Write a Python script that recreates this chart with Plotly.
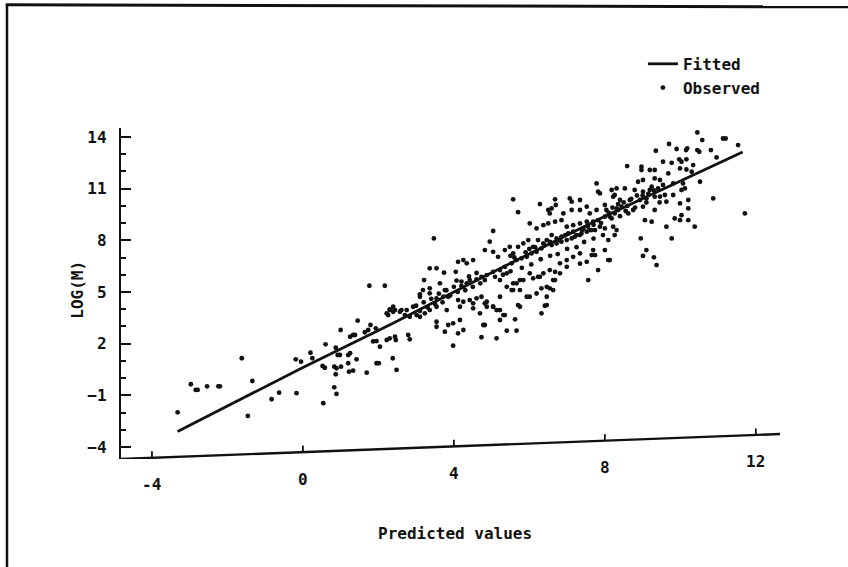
import plotly.graph_objects as go

# ---------------- data ----------------
fit_x = [-3.32, 0.0, 2.4, 4.8, 8.0, 11.65]
fit_y = [-3.11, 0.62, 3.2, 5.9, 9.4, 13.13]

obs_x = [
    # sparse left part
    -3.32, -2.97, -2.84, -2.79, -2.54, -2.24, -2.20, -1.62, -1.34, -1.46, -0.83, -0.63, -0.17, -0.19, -0.05,
    0.20, 0.25, 0.52, 0.58, 0.54, 0.60, 0.83, 0.89, 0.87, 0.83, 0.89, 0.87, 0.92, 0.98, 1.00, 1.01, 1.20,
    1.22, 1.33, 1.20, 1.25, 1.42, 1.25, 1.33, 1.38, 1.45, 1.64, 1.73, 1.79, 1.86, 1.95, 1.93, 2.04, 1.95,
    2.01, 1.69, 2.26, 2.30, 2.39, 2.22, 2.30, 2.38, 2.48, 2.46,
    # x 1.7 - 5
    1.76, 2.17, 3.47, 3.36, 3.54, 3.74, 4.05, 4.11, 4.25, 4.34, 4.51, 3.21, 3.36, 3.10, 3.63, 3.76, 3.85,
    3.72, 3.54, 4.07, 4.20, 4.34, 4.42, 4.60, 4.73, 4.82, 4.11, 4.25, 4.42, 4.51, 4.60, 4.73, 4.87, 2.30,
    2.44, 2.61, 2.70, 2.83, 3.01, 3.10, 3.23, 3.36, 3.54, 3.54, 3.54, 3.76, 3.85, 3.98, 4.16, 4.25, 4.11,
    3.98, 4.73, 4.82, 2.44, 2.83, 2.79,
    # lower group x 5 - 6.5
    5.13, 5.31, 5.40, 5.62, 5.66, 5.70, 6.41, 5.04, 5.22,
    # upper group x 5.5 - 8.3
    7.78, 7.82, 7.87, 8.18, 8.26, 5.57, 5.70, 6.28, 6.68, 6.70, 7.07, 7.12, 7.34, 6.50, 6.59, 6.54, 6.90,
    7.12, 7.34, 7.52, 7.60, 7.78, 8.00, 8.04,
    6.01, 6.19, 6.37, 6.50, 6.68, 6.85, 6.99, 7.16, 7.34, 7.52, 7.69, 7.82, 8.00, 8.18, 8.26, 8.35, 5.04,
    4.95, 4.82, 5.04, 5.17, 5.35, 5.48, 5.57, 5.70, 5.84, 5.97, 6.10, 6.23, 6.37, 6.46, 6.59, 6.72, 6.85,
    7.03, 7.16, 7.34, 7.43, 7.60, 7.74, 7.87, 8.00, 8.09, 8.00, 7.74, 8.09, 7.82, 7.56,
    # dense band along the line
    4.87, 5.04, 5.22, 5.35, 5.53, 5.66, 5.79, 5.93, 6.06, 6.19, 6.32, 6.59, 6.72, 6.85, 6.99, 7.12, 7.25,
    7.38, 7.52, 7.65,
    5.09, 5.22, 5.40, 5.53, 5.66, 5.75, 6.10, 6.23, 6.37, 6.54, 6.68, 6.81, 6.99, 7.16, 7.34, 7.52, 7.65,
    7.34, 7.69, 6.99, 6.81, 6.63, 6.46, 6.28, 6.01, 5.84, 5.57, 5.40, 5.75, 5.93, 6.19, 6.46, 6.63, 6.46,
    6.32, 5.13, 4.87, 4.69, 4.51, 4.16, 3.81, 3.36, 3.18, 3.10, 2.92, 2.75, 2.57, 2.39, 2.22,
    4.82, 5.04, 5.22, 5.35, 5.57, 5.75, 6.01, 6.32, 6.54, 6.68, 4.78, 5.22,
    # right part x 8 - 12
    10.45, 11.13, 11.20, 11.53, 10.58, 9.70, 9.35, 9.90, 10.15, 10.18, 10.45, 10.50, 10.81, 8.59, 8.97,
    8.97, 9.19, 9.32, 9.54, 9.77, 9.97, 10.03, 10.16, 9.99, 10.16, 10.34, 10.30, 10.96, 9.68, 10.52, 10.07,
    10.12, 10.03, 10.87, 11.71, 8.88, 9.01, 9.32, 9.46, 9.24, 9.54, 9.81, 8.31, 8.53, 8.79, 9.01, 9.19,
    9.41, 9.59, 9.81, 9.99, 10.21, 8.22, 8.40, 8.66, 8.93, 9.10, 9.32, 9.46, 9.63, 8.31, 8.44, 8.62, 8.75,
    9.01, 9.06, 9.24, 9.32, 9.63, 9.77, 9.85, 9.99, 10.03, 10.21, 10.21, 10.38, 8.22, 8.31, 8.26, 8.13,
    8.95, 9.10, 9.01, 9.30, 9.37, 8.13,
    # extra band points
    8.10, 8.20, 8.35, 8.50, 8.60, 8.70, 8.85, 9.00, 9.15, 9.30, 8.40, 8.55, 8.80, 9.10, 9.45,
    5.50, 5.60, 5.90, 6.00, 6.15, 6.40, 6.55, 6.80, 6.95, 7.20, 7.40, 7.55, 7.70, 7.90,
    5.30, 5.50, 5.80, 6.05, 6.30, 6.55, 6.75, 7.00, 7.25, 7.45, 7.70, 7.95,
    3.00, 3.20, 3.40, 3.60, 3.80, 4.00, 4.20, 4.40, 4.60, 3.10, 3.30, 3.50, 3.70, 3.90, 4.10, 4.30, 4.50, 4.70,
]

obs_y = [
    -1.99, -0.36, -0.69, -0.69, -0.48, -0.48, -0.48, 1.15, -0.17, -2.20, -1.23, -0.85, -0.88, 1.09, 0.95,
    1.47, 1.15, 0.70, 0.60, -1.46, 1.96, 0.66, 0.57, 0.22, -0.54, -0.92, 1.76, 1.34, 1.34, 2.79, 0.66, 0.86,
    0.37, 0.43, 1.34, 1.44, 1.09, 2.40, 2.50, 2.50, 3.33, 2.66, 2.79, 3.08, 2.13, 2.15, 2.89, 1.82, 0.86,
    0.86, 0.31, 3.66, 3.99, 3.85, 2.21, 2.31, 1.15, 0.47, 2.21,
    5.36, 5.36, 8.11, 6.37, 6.37, 6.12, 6.17, 6.75, 6.85, 6.66, 6.85, 5.69, 5.21, 4.86, 5.50, 5.11, 4.72,
    4.72, 4.63, 5.66, 5.34, 5.50, 5.69, 5.73, 5.88, 5.69, 4.53, 4.43, 4.53, 4.05, 4.63, 4.72, 4.43, 3.95,
    3.95, 3.95, 3.66, 3.56, 3.66, 3.56, 3.76, 3.95, 4.14, 3.27, 2.98, 2.69, 3.08, 3.18, 3.37, 2.79, 2.60,
    1.88, 2.37, 3.08, 2.40, 2.25, 2.50,
    2.31, 3.66, 2.75, 3.41, 2.75, 4.24, 4.20, 4.14, 3.95,
    11.30, 10.82, 10.72, 10.92, 10.63, 10.38, 9.63, 10.10, 10.38, 10.05, 10.43, 10.24, 10.34, 9.76, 9.85,
    9.56, 9.56, 9.76, 9.76, 9.95, 9.56, 9.76, 10.05, 9.76,
    8.98, 8.69, 8.88, 8.98, 9.08, 9.17, 8.79, 8.88, 8.98, 9.08, 9.08, 9.17, 9.37, 9.27, 9.56, 9.76, 8.54,
    7.92, 7.43, 7.33, 7.04, 7.43, 7.62, 7.24, 7.62, 7.82, 8.01, 7.62, 8.01, 7.82, 8.01, 8.30, 8.11, 8.21,
    8.40, 8.50, 8.30, 8.69, 8.59, 8.59, 8.79, 8.69, 8.01, 7.43, 7.14, 6.85, 6.27, 5.69,
    5.98, 6.17, 6.27, 6.46, 6.66, 6.85, 6.95, 7.04, 7.24, 7.33, 7.53, 7.72, 7.82, 7.92, 8.01, 8.11, 8.30,
    8.40, 8.50, 8.59,
    5.88, 5.69, 5.30, 5.11, 5.50, 5.69, 5.79, 5.88, 6.08, 6.27, 6.17, 6.66, 6.85, 7.04, 7.24, 6.75, 7.14,
    6.64, 7.43, 6.46, 6.08, 5.69, 5.30, 5.88, 6.08, 5.69, 5.50, 6.08, 5.11, 4.72, 4.91, 4.72, 5.11, 4.24,
    3.76, 3.95, 4.14, 3.76, 4.34, 4.14, 3.95, 4.92, 5.11, 4.72, 4.14, 3.95, 3.85, 4.14, 3.76,
    4.34, 4.14, 4.72, 3.66, 5.11, 4.14, 4.72, 5.21, 5.21, 5.69, 3.08, 3.37,
    14.26, 13.91, 13.91, 13.53, 13.82, 13.59, 13.20, 13.30, 13.24, 13.34, 13.24, 13.14, 13.24, 12.31, 12.27,
    12.08, 12.08, 12.08, 12.56, 12.50, 12.70, 12.56, 12.70, 12.17, 12.11, 12.37, 11.98, 12.81, 11.88, 11.40,
    11.30, 11.01, 10.92, 10.43, 9.56, 11.40, 11.50, 11.59, 11.50, 11.11, 11.21, 11.30, 11.01, 11.01, 10.92,
    10.82, 10.92, 11.01, 10.63, 10.63, 10.14, 10.34, 10.53, 10.34, 10.34, 10.34, 10.43, 10.53, 10.53, 10.24,
    9.85, 9.95, 9.56, 9.76, 9.95, 9.17, 9.08, 9.76, 8.79, 8.11, 9.27, 9.17, 9.46, 9.85, 9.17, 8.79, 8.79,
    8.59, 8.30, 9.37, 8.11, 7.43, 7.09, 7.01, 6.56, 6.85,
    9.60, 9.90, 10.10, 10.20, 10.00, 10.40, 10.60, 10.60, 10.70, 10.90, 9.40, 9.70, 9.90, 10.20, 10.20,
    7.10, 7.00, 7.30, 7.50, 7.60, 7.70, 7.90, 8.00, 8.30, 8.20, 8.60, 8.80, 8.90, 9.00,
    6.00, 6.20, 6.40, 6.60, 6.90, 7.10, 7.20, 7.50, 7.60, 7.90, 8.10, 8.30,
    4.20, 4.40, 4.60, 4.90, 5.10, 5.30, 5.60, 5.90, 6.10, 3.90, 4.10, 4.30, 4.40, 4.80, 5.00, 5.10, 5.30, 5.50,
]

x_ticks = [-4, 0, 4, 8, 12]
y_ticks = [-4, -1, 2, 5, 8, 11, 14]

x_title = "Predicted values"
y_title = "LOG(M)"

# ---------------- layout geometry ----------------
X_RANGE = [-4.82, 12.64]
Y_RANGE = [-4.70, 14.52]
AX_Y_LEFT, AX_Y_RIGHT = -4.70, -3.25   # the x-axis line is drawn slanted


def axis_y(xv):
    return AX_Y_LEFT + (xv - X_RANGE[0]) * (AX_Y_RIGHT - AX_Y_LEFT) / (X_RANGE[1] - X_RANGE[0])


INK = "#111111"
FONT = dict(family="DejaVu Sans Mono", size=16, color=INK, weight="bold")

fig = go.Figure()
fig.add_trace(go.Scatter(x=fit_x, y=fit_y, mode="lines", name="Fitted",
                         line=dict(color=INK, width=2.8)))
fig.add_trace(go.Scatter(x=obs_x, y=obs_y, mode="markers", name="Observed",
                         marker=dict(color=INK, size=4.8, line=dict(width=0))))

shapes = [
    # slanted x axis
    dict(type="line", xref="x", yref="y", x0=X_RANGE[0], y0=axis_y(X_RANGE[0]),
         x1=X_RANGE[1], y1=axis_y(X_RANGE[1]), line=dict(color=INK, width=2.4)),
    # page frame (top and left)
    dict(type="line", xref="paper", yref="paper", x0=-0.175, y0=1.372, x1=1.11, y1=1.366,
         line=dict(color=INK, width=3)),
    dict(type="line", xref="paper", yref="paper", x0=-0.173, y0=1.372, x1=-0.173, y1=-0.33,
         line=dict(color=INK, width=2.5)),
]
annotations = []
for t in x_ticks:
    shapes.append(dict(type="line", xref="x", yref="y", x0=t, y0=axis_y(t), x1=t, y1=axis_y(t) + 0.38,
                       line=dict(color=INK, width=1.8)))
    annotations.append(dict(x=t, y=axis_y(t), xref="x", yref="y", text=str(t), showarrow=False,
                            yanchor="middle", xanchor="center", yshift=-27, font=FONT))

annotations.append(dict(x=0.507, y=-0.224, xref="paper", yref="paper", text=x_title, showarrow=False,
                        font=FONT, xanchor="center", yanchor="middle"))
annotations.append(dict(x=-0.066, y=0.51, xref="paper", yref="paper", text=y_title, showarrow=False,
                        font=FONT, textangle=-90, xanchor="center", yanchor="middle"))

fig.update_layout(
    width=848, height=567,
    margin=dict(l=121, r=68, t=128, b=108),
    paper_bgcolor="white", plot_bgcolor="white",
    showlegend=True,
    legend=dict(x=0.792, y=1.245, xanchor="left", yanchor="top", font=FONT,
                bgcolor="rgba(0,0,0,0)", itemwidth=30, tracegroupgap=2),
    shapes=shapes, annotations=annotations,
    xaxis=dict(range=X_RANGE, showgrid=False, zeroline=False, showline=False,
               showticklabels=False, ticks=""),
    yaxis=dict(range=Y_RANGE, showgrid=False, zeroline=False, showline=True, linecolor=INK, linewidth=2.4,
               tickmode="linear", tick0=-4, dtick=3, ticks="inside", ticklen=10, tickwidth=1.8, tickcolor=INK,
               minor=dict(ticks="inside", ticklen=5, dtick=1, tick0=-4, tickcolor=INK, tickwidth=1.6),
               tickfont=FONT, ticklabelstandoff=9),
)

fig.write_html("out.html")
